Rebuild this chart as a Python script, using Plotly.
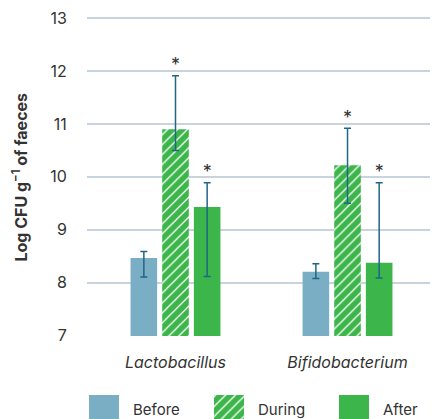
import plotly.graph_objects as go

categories = ["Lactobacillus", "Bifidobacterium"]
series = ["Before", "During", "After"]

before = [8.47, 8.21]
before_hi = [8.59, 8.36]
before_lo = [8.11, 8.08]

during = [10.90, 10.22]
during_hi = [11.91, 10.92]
during_lo = [10.50, 9.50]

after = [9.43, 8.38]
after_hi = [9.89, 9.89]
after_lo = [8.12, 8.09]

significant = {"Before": [False, False], "During": [True, True], "After": [True, True]}

y_ticks = [7, 8, 9, 10, 11, 12, 13]

BLUE = "#7aaec4"
GREEN = "#3cb54a"
ERR = "#1f6786"
TXT = "#333333"
GRID = "#c8d3dd"
FONT = "Inter"

# page body has an 8px margin; figure is sized to the visible area
W, H = 430, 411

data = {
    "Before": (before, before_hi, before_lo),
    "During": (during, during_hi, during_lo),
    "After": (after, after_hi, after_lo),
}
colors = {"Before": BLUE, "During": GREEN, "After": GREEN}
patterns = {"Before": "", "During": "/", "After": ""}
HATCH = dict(fgcolor="white", bgcolor=GREEN, size=7, solidity=0.18)

fig = go.Figure()
for name in series:
    vals, hi, lo = data[name]
    plus = [h - v for h, v in zip(hi, vals)]
    minus = [v - l for v, l in zip(vals, lo)]
    pat = dict(shape=patterns[name], **HATCH) if patterns[name] else dict(shape="")
    fig.add_trace(go.Bar(
        name=name, x=categories, y=vals, offsetgroup=name,
        marker=dict(color=colors[name], line=dict(width=0), pattern=pat),
        error_y=dict(type="data", symmetric=False, array=plus, arrayminus=minus,
                     color=ERR, thickness=1.5, width=3.5),
        showlegend=False, hoverinfo="skip",
    ))

for name in series:
    vals, hi, lo = data[name]
    xs = [c for c, s in zip(categories, significant[name]) if s]
    ys = [h for h, s in zip(hi, significant[name]) if s]
    if xs:
        fig.add_trace(go.Scatter(
            x=xs, y=ys, offsetgroup=name, mode="text", text=["*"] * len(xs),
            textposition="top center",
            textfont=dict(family=FONT, size=18, color=TXT),
            showlegend=False, hoverinfo="skip", cliponaxis=False,
        ))

# legend swatches in an inset axis
for s in series:
    pat = dict(shape=patterns[s], **HATCH) if patterns[s] else dict(shape="")
    fig.add_trace(go.Bar(
        x=[s], y=[1], width=0.24, offset=-0.12, xaxis="x2", yaxis="y2",
        marker=dict(color=colors[s], line=dict(width=0), pattern=pat),
        showlegend=False, hoverinfo="skip",
    ))
    fig.add_annotation(x=s, xref="x2", y=(H - 401) / H, yref="paper", xanchor="left",
                       yanchor="middle", xshift=27, text=s, showarrow=False,
                       font=dict(family=FONT, size=15, color=TXT))

fig.add_annotation(x=12 / W, y=(H - 169.5) / H, xref="paper", yref="paper",
                   text="Log CFU g<sup>−1</sup> of faeces", textangle=-90, showarrow=False,
                   xanchor="center", yanchor="middle",
                   font=dict(family=FONT, size=16, color=TXT, weight="bold"))

fig.update_layout(
    template="none",
    width=W, height=H,
    margin=dict(l=0, r=0, t=0, b=0, autoexpand=False),
    paper_bgcolor="white", plot_bgcolor="white",
    barmode="group", bargap=0.448, bargroupgap=0.16,
    scattermode="group",
    showlegend=False,
    font=dict(family=FONT, color=TXT),
    xaxis=dict(domain=[79 / W, 1], range=[-0.5145, 1.526], showgrid=False, zeroline=False,
               showline=False, ticks="outside", ticklen=12, tickcolor="rgba(0,0,0,0)",
               automargin=False,
               tickfont=dict(family=FONT, size=16, color=TXT, style="italic")),
    yaxis=dict(domain=[(H - 328) / H, (H - 4) / H], range=[6.995, 13.113], tickvals=y_ticks,
               showgrid=True, gridcolor=GRID, gridwidth=2, zeroline=False, showline=False,
               ticks="outside", ticklen=16, tickcolor="rgba(0,0,0,0)", automargin=False,
               ticklabeloverflow="allow",
               tickfont=dict(family=FONT, size=16, color=TXT)),
    xaxis2=dict(domain=[79 / W, 1], range=[-0.136, 2.672], anchor="y2", visible=False),
    yaxis2=dict(domain=[0, 24 / H], range=[0, 1], anchor="x2", visible=False),
)

fig.write_html("out.html")
